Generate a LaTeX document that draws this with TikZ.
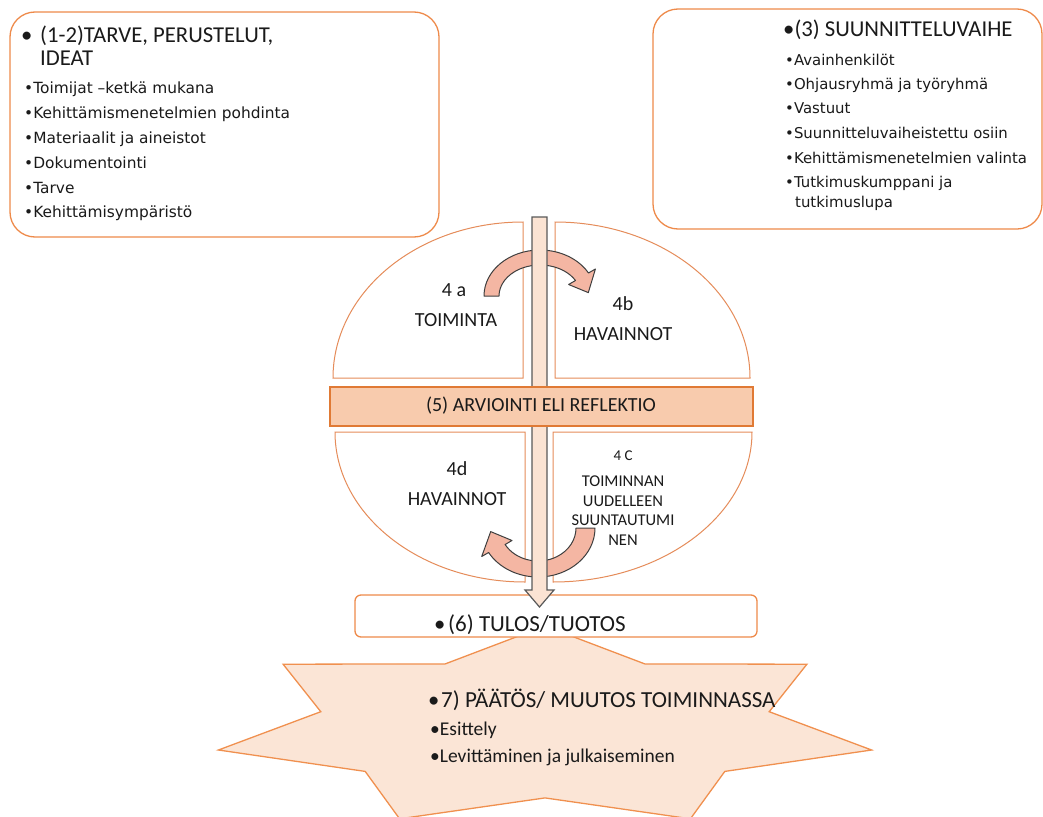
\documentclass[tikz,border=0pt]{standalone}
\usepackage{fontspec}
\setmainfont{Carlito}
\newfontfamily\dvsans{DejaVu Sans}
\definecolor{boxline}{HTML}{EE8A4A}
\definecolor{quartline}{HTML}{E58C5A}
\definecolor{bandfill}{HTML}{F8CBAD}
\definecolor{bandline}{HTML}{E07A35}
\definecolor{starfill}{HTML}{FBE5D6}
\definecolor{starline}{HTML}{F0904F}
\definecolor{arrfill}{HTML}{F4B6A3}
\definecolor{arrline}{HTML}{3F3F3F}
\definecolor{shaftfill}{HTML}{FBE3D3}
\definecolor{shaftline}{HTML}{595959}
\definecolor{textc}{HTML}{1A1A1A}
\begin{document}
\begin{tikzpicture}[x=1pt,y=-1pt,
  tbox/.style={draw=boxline, line width=1.3pt, fill=white, rounded corners=25pt},
  resbox/.style={draw=boxline, line width=1.3pt, fill=white, rounded corners=6pt},
  quarter/.style={draw=quartline, line width=1pt, fill=white},
  curv/.style={draw=arrline, fill=arrfill, line width=1pt, line join=round},
  shaftst/.style={draw=shaftline, fill=shaftfill, line width=1.2pt, line join=miter},
  bandst/.style={draw=bandline, fill=bandfill, line width=1.3pt},
  starst/.style={draw=starline, fill=starfill, line width=1.3pt, line join=miter},
  txt/.style={inner sep=0pt, text=textc, anchor=base west},
  ctxt/.style={inner sep=0pt, text=textc, anchor=base},
  big/.style={font=\fontsize{22.7}{26}\selectfont},
  itemf/.style={font=\dvsans\fontsize{15.4}{17}\selectfont},
  itemr/.style={font=\dvsans\fontsize{14.9}{17}\selectfont},
  midf/.style={font=\fontsize{20}{24}\selectfont},
  smallf/.style={font=\fontsize{16.5}{19}\selectfont},
  starf/.style={font=\fontsize{19.5}{23}\selectfont}
]
\useasboundingbox (0,0) rectangle (1043,816);

% star
\draw[starst] (545,626.0) -- (644.8,663.9) -- (806.9,664.2) -- (769.2,711.7)
  -- (871.6,750.0) -- (724.8,771.4) -- (690.4,818.8) -- (545,797.9)
  -- (399.6,818.8) -- (365.2,771.4) -- (218.4,750.0) -- (320.8,711.7)
  -- (283.1,664.2) -- (445.2,663.9) -- cycle;

% result box
\draw[resbox] (355,595) rectangle (757,637);

% top boxes
\draw[tbox] (10,12) rectangle (439,237);
\draw[tbox] (653,9) rectangle (1042,229);

% quarters
\draw[quarter] (523,378) -- (523,222) arc[start angle=270, end angle=180, x radius=190, y radius=156] -- cycle;
\draw[quarter] (555,378) -- (555,222) arc[start angle=270, end angle=360, x radius=195, y radius=156] -- cycle;
\draw[quarter] (525,432) -- (335,432) arc[start angle=180, end angle=90, x radius=190, y radius=150] -- cycle;
\draw[quarter] (553,432) -- (752,432) arc[start angle=0, end angle=90, x radius=199, y radius=150] -- cycle;

% curved arrows
\draw[curv] (484,296) arc[start angle=180, end angle=330, x radius=56, y radius=46]
  -- (595.4,269) -- (588.3,292.6) -- (568.6,284.5) -- (575.5,280.5)
  arc[start angle=330, end angle=180, x radius=41, y radius=31] -- cycle;
\draw[curv] (595,528) arc[start angle=0, end angle=150, x radius=57, y radius=49]
  -- (481.7,556.5) -- (490.7,531.6) -- (512,540.5) -- (505.1,544.5)
  arc[start angle=150, end angle=0, x radius=38, y radius=33] -- cycle;

% vertical arrow
\draw[shaftst] (532,217) -- (547,217) -- (547,590) -- (554,590) -- (539.5,607)
  -- (525,590) -- (532,590) -- cycle;

% band
\draw[bandst] (330,387) rectangle (753,426);
\node[ctxt, midf] (refl) at (541,411.5) {(5) ARVIOINTI ELI REFLEKTIO};

% left box text
\node[txt, big] (lb) at (21,42) {•};
\node[txt, big] (lt1) at (40,42) {(1-2)TARVE, PERUSTELUT,};
\node[txt, big] (lt2) at (40,66) {IDEAT};
\node[txt, itemf] (li1) at (24,93) {•Toimijat –ketkä mukana};
\node[txt, itemf] (li2) at (24,118.5) {•Kehittämismenetelmien pohdinta};
\node[txt, itemf] (li3) at (24,143) {•Materiaalit ja aineistot};
\node[txt, itemf] (li4) at (24,168) {•Dokumentointi};
\node[txt, itemf] (li5) at (24,193) {•Tarve};
\node[txt, itemf] (li6) at (24,217) {•Kehittämisympäristö};

% right box text
\node[txt, big] (rt) at (783,37) {•(3) SUUNNITTELUVAIHE};
\node[txt, itemr] (ri1) at (785,65) {•Avainhenkilöt};
\node[txt, itemr] (ri2) at (785,89) {•Ohjausryhmä ja työryhmä};
\node[txt, itemr] (ri3) at (785,113) {•Vastuut};
\node[txt, itemr] (ri4) at (785,138) {•Suunnitteluvaiheistettu osiin};
\node[txt, itemr] (ri5) at (785,163) {•Kehittämismenetelmien valinta};
\node[txt, itemr] (ri6) at (785,187) {•Tutkimuskumppani ja};
\node[txt, itemr] (ri7) at (795,207) {tutkimuslupa};

% quarter texts
\node[ctxt, midf] (q4a) at (454,296.7) {4 a};
\node[ctxt, midf] (q4at) at (456,326.7) {TOIMINTA};
\node[ctxt, midf] (q4b) at (623,310) {4b};
\node[ctxt, midf] (q4bt) at (623,340) {HAVAINNOT};
\node[ctxt, midf] (q4d) at (457,475) {4d};
\node[ctxt, midf] (q4dt) at (457,505) {HAVAINNOT};
\node[ctxt, font=\fontsize{15}{18}\selectfont] (q4c) at (623,460) {4 C};
\node[ctxt, smallf] (q4c1) at (623,486.7) {TOIMINNAN};
\node[ctxt, smallf] (q4c2) at (623,506) {UUDELLEEN};
\node[ctxt, smallf] (q4c3) at (623,525) {SUUNTAUTUMI};
\node[ctxt, smallf] (q4c4) at (623,545) {NEN};

% result text
\node[txt, big] (resb) at (434,631) {•};
\node[txt, font=\fontsize{23}{26}\selectfont] (rest) at (448,631) {(6) TULOS/TUOTOS};

% star text
\node[txt, big] (stb) at (428,707) {•};
\node[txt, font=\fontsize{23}{26}\selectfont] (stt) at (441,707) {7) PÄÄTÖS/ MUUTOS TOIMINNASSA};
\node[txt, starf] (st1) at (430,735) {•Esittely};
\node[txt, starf] (st2) at (430,762) {•Levittäminen ja julkaiseminen};
\end{tikzpicture}
\end{document}
